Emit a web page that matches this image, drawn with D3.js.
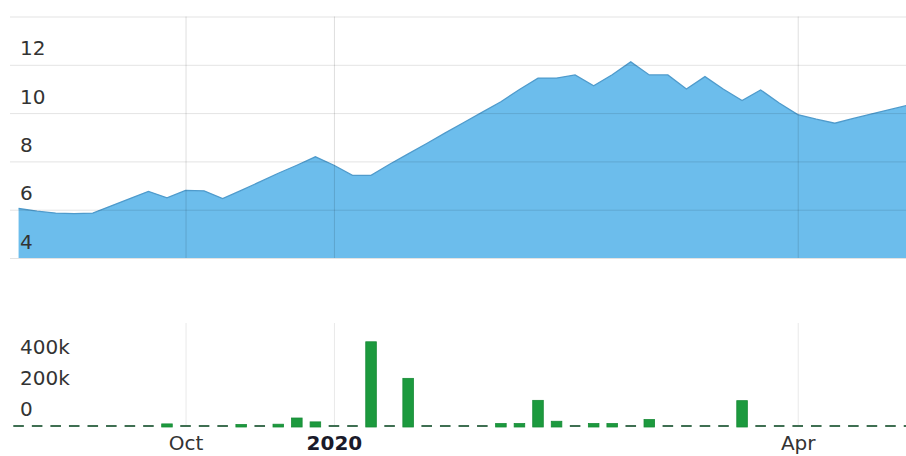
<!DOCTYPE html>
<html>
<head>
<meta charset="utf-8">
<script src="https://cdn.jsdelivr.net/npm/d3@7"></script>
<style>
  body { margin: 0; background: #fff; }
  svg { display: block; }
</style>
</head>
<body>
<div id="chart"></div>
<script>
// closing prices, one per data point (the axis is by point, not by calendar time)
var prices = [6.05, 5.94, 5.86, 5.84, 5.86, 6.16, 6.46, 6.76, 6.49, 6.80,
              6.78, 6.46, 6.80, 7.15, 7.51, 7.84, 8.19, 7.84, 7.42, 7.42,
              7.88, 8.31, 8.74, 9.18, 9.61, 10.04, 10.47, 10.98, 11.45, 11.45,
              11.58, 11.13, 11.59, 12.12, 11.58, 11.58, 11.00, 11.51, 10.99, 10.52,
              10.96, 10.42, 9.94, 9.75, 9.58, 9.78, 9.97, 10.15, 10.34];

var volumes = [0, 0, 0, 0, 0, 0, 0, 0, 20000, 0,
               0, 0, 16000, 0, 18000, 58000, 33000, 0, 0, 550000,
               0, 314000, 0, 0, 0, 0, 22000, 22000, 172000, 37000,
               0, 22000, 22000, 0, 48000, 0, 0, 0, 0, 170000,
               0, 0, 0, 0, 0, 0, 0, 0, 0];

var priceTicks = [4, 6, 8, 10, 12];
var priceGrid = [4, 6, 8, 10, 12, 14];
var volumeTicks = [0, 200000, 400000];

var tickIndex = [9, 17, 42];
var tickLabels = ["Oct", "2020", "Apr"];
var tickBold = [false, true, false];

var width = 906, height = 456;
var font = "'DejaVu Sans', Verdana, sans-serif";

var svg = d3.select("#chart").append("svg")
    .attr("width", width)
    .attr("height", height);

var idx = d3.range(prices.length);

// point scale, half a step of padding at each side
var x = d3.scalePoint()
    .domain(idx)
    .range([9.3, 918.3])
    .padding(0.5);

var y = d3.scaleLinear().domain([4, 14]).range([258, 16.5]);
var yVol = d3.scaleLinear().domain([0, 670000]).range([427, 323.2]);

// ---- price panel ----
var area = d3.area()
    .x(function(d, i) { return x(i); })
    .y0(y(4))
    .y1(function(d) { return y(d); });

var line = d3.line()
    .x(function(d, i) { return x(i); })
    .y(function(d) { return y(d); });

svg.append("path")
    .datum(prices)
    .attr("d", area)
    .attr("fill", "#6cbdec");

svg.append("path")
    .datum(prices)
    .attr("d", line)
    .attr("fill", "none")
    .attr("stroke", "#4f9bcc")
    .attr("stroke-width", 1.3);

// horizontal grid
svg.append("g")
    .attr("transform", "translate(10,0)")
    .call(d3.axisRight(y).tickValues(priceGrid).tickSize(width).tickFormat(""))
    .call(function(g) {
        g.select(".domain").remove();
        g.selectAll("line").attr("stroke", "#000").attr("stroke-opacity", 0.11);
    });

// vertical grid, both panels
svg.append("g")
    .attr("transform", "translate(0,258)")
    .call(d3.axisTop(x).tickValues(tickIndex).tickSize(258 - 16.5).tickFormat(""))
    .call(function(g) {
        g.select(".domain").remove();
        g.selectAll("line").attr("stroke", "#000").attr("stroke-opacity", 0.13);
    });

svg.append("g")
    .attr("transform", "translate(0,427)")
    .call(d3.axisTop(x).tickValues(tickIndex).tickSize(427 - 323).tickFormat(""))
    .call(function(g) {
        g.select(".domain").remove();
        g.selectAll("line").attr("stroke", "#000").attr("stroke-opacity", 0.09);
    });

// price labels sit above their grid line
svg.append("g")
    .attr("transform", "translate(10,0)")
    .call(d3.axisRight(y).tickValues(priceTicks).tickSize(0).tickPadding(10))
    .attr("font-family", font)
    .attr("font-size", 20)
    .call(function(g) {
        g.select(".domain").remove();
        g.selectAll("text")
            .attr("dy", "-10px")
            .attr("fill", "#333");
    });

// ---- volume panel ----
var barW = x.step() * 0.57;

svg.append("g")
    .selectAll("rect")
    .data(volumes)
    .enter()
    .append("rect")
    .attr("x", function(d, i) { return x(i) - barW / 2; })
    .attr("y", function(d) { return Math.min(yVol(d), yVol(0) - 2); })
    .attr("width", barW)
    .attr("height", function(d) { return yVol(0) - Math.min(yVol(d), yVol(0) - 2); })
    .attr("fill", function(d) { return d > 0 ? "#1c9a3e" : "#3f6f52"; })
    .attr("stroke", function(d) { return d > 0 ? "#178a36" : "none"; })
    .attr("stroke-width", 0.8);

svg.append("g")
    .attr("transform", "translate(10,0)")
    .call(d3.axisRight(yVol).tickValues(volumeTicks).tickSize(0).tickPadding(10)
        .tickFormat(d3.format("~s")))
    .attr("font-family", font)
    .attr("font-size", 20)
    .call(function(g) {
        g.select(".domain").remove();
        g.selectAll("text")
            .attr("dy", "-12px")
            .attr("fill", "#333");
    });

// date labels
svg.append("g")
    .attr("transform", "translate(0,427)")
    .call(d3.axisBottom(x).tickValues(tickIndex).tickSize(0).tickPadding(9)
        .tickFormat(function(d, i) { return tickLabels[i]; }))
    .attr("font-family", font)
    .attr("font-size", 20)
    .call(function(g) {
        g.select(".domain").remove();
        g.selectAll("text")
            .attr("fill", function(d, i) { return tickBold[i] ? "#1a1a2a" : "#333"; })
            .style("font-weight", function(d, i) { return tickBold[i] ? "bold" : "normal"; });
    });
</script>
</body>
</html>
